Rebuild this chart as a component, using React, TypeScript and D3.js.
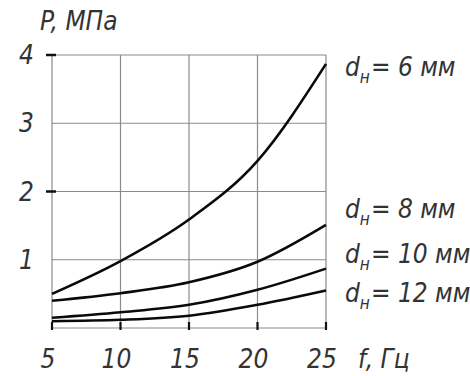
import React, { useEffect, useRef } from "react";
import * as d3 from "d3";

// frequency, Hz
const freq = [5, 10, 15, 20, 25];
// pressure, MPa for each nozzle diameter
const p6 = [0.5, 0.98, 1.59, 2.45, 3.87];
const p8 = [0.4, 0.51, 0.67, 0.97, 1.51];
const p10 = [0.15, 0.23, 0.34, 0.56, 0.87];
const p12 = [0.1, 0.12, 0.18, 0.34, 0.55];
const diam = ["6", "8", "10", "12"];
const xTicks = [5, 10, 15, 20, 25];
const yTicks = [1, 2, 3, 4];

const App = () => {
  const ref = useRef<SVGSVGElement>(null);

  useEffect(() => {
    const svg = d3.select(ref.current);
    svg.selectAll("*").remove();

    const x = d3.scaleLinear().domain([5, 25]).range([52, 326]);
    const y = d3.scaleLinear().domain([0, 4]).range([328, 55]);
    const font = "'DejaVu Sans Condensed', 'DejaVu Sans', sans-serif";
    const ink = "#333";

    // grid
    const g = svg.append("g");
    g.selectAll("line.v")
      .data(xTicks)
      .enter()
      .append("line")
      .attr("x1", (d) => x(d))
      .attr("x2", (d) => x(d))
      .attr("y1", y(0))
      .attr("y2", y(4))
      .attr("stroke", "#8a8a8a")
      .attr("stroke-width", 1.2);
    g.selectAll("line.h")
      .data([0, ...yTicks])
      .enter()
      .append("line")
      .attr("x1", x(5))
      .attr("x2", x(25))
      .attr("y1", (d) => y(d))
      .attr("y2", (d) => y(d))
      .attr("stroke", "#8a8a8a")
      .attr("stroke-width", 1.2);

    // bold ticks
    g.selectAll("line.yt")
      .data([2, 4])
      .enter()
      .append("line")
      .attr("x1", x(5) - 6)
      .attr("x2", x(5) + 4)
      .attr("y1", (d) => y(d))
      .attr("y2", (d) => y(d))
      .attr("stroke", "#111")
      .attr("stroke-width", 2.5);
    g.selectAll("line.xt")
      .data(xTicks)
      .enter()
      .append("line")
      .attr("x1", (d) => x(d))
      .attr("x2", (d) => x(d))
      .attr("y1", y(0) - 6)
      .attr("y2", y(0) + 2)
      .attr("stroke", "#111")
      .attr("stroke-width", 2.2);

    // curves
    const line = d3
      .line<number>()
      .x((d, i) => x(freq[i]))
      .y((d) => y(d))
      .curve(d3.curveMonotoneX);
    [p6, p8, p10, p12].forEach((s) => {
      svg
        .append("path")
        .attr("d", line(s))
        .attr("fill", "none")
        .attr("stroke", "#0a0a0a")
        .attr("stroke-width", 2.6);
    });

    // tick labels
    svg
      .selectAll("text.xl")
      .data(xTicks)
      .enter()
      .append("text")
      .attr("x", (d) => x(d) - 4)
      .attr("y", 368)
      .attr("text-anchor", "middle")
      .text((d) => d);
    svg
      .selectAll("text.yl")
      .data(yTicks)
      .enter()
      .append("text")
      .attr("x", 34)
      .attr("y", (d) => y(d) + 9)
      .attr("text-anchor", "end")
      .text((d) => d);

    svg.append("text").attr("x", 358).attr("y", 368).text("f, Гц");
    svg.append("text").attr("x", 40).attr("y", 30).text("P, МПа");

    // curve labels
    const ly = [76, 218, 263, 302];
    diam.forEach((d, i) => {
      const t = svg.append("text").attr("x", 345).attr("y", ly[i]);
      t.append("tspan").text("d");
      t.append("tspan").attr("dy", 7).attr("font-size", 17).text("н");
      t.append("tspan").attr("dy", -7).attr("dx", 1).text(`= ${d} мм`);
    });

    svg
      .selectAll("text")
      .attr("font-family", font)
      .attr("font-stretch", "condensed")
      .attr("font-style", "italic")
      .attr("fill", ink)
      .filter(function () {
        return !this.getAttribute("font-size");
      })
      .attr("font-size", 26);
  }, []);

  return (
    <div style={{ position: "absolute", left: 0, top: 0 }}>
      <svg ref={ref} width={470} height={376} style={{ background: "#fff" }}></svg>
    </div>
  );
};

export default App;
